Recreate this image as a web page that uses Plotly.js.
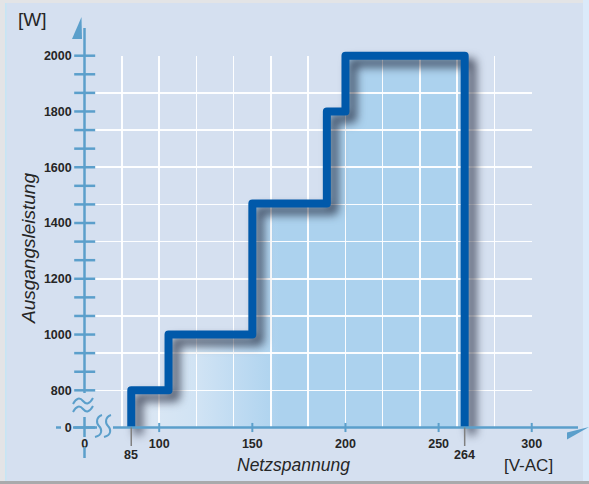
<!DOCTYPE html>
<html>
<head>
<meta charset="utf-8">
<script src="https://cdn.plot.ly/plotly-3.0.1.min.js"></script>
<style>
  html, body { margin: 0; padding: 0; background: #d5e0f0; }
  #chart { width: 589px; height: 484px; }
</style>
</head>
<body>
<div id="chart"></div>
<script>
// ---------------- data ----------------
const volts = [85, 85, 105, 105, 150, 150, 190, 190, 200, 200, 264, 264];
const watts = [0, 800, 800, 1000, 1000, 1470, 1470, 1800, 1800, 2000, 2000, 0];

const xTickVals = [60, 100, 150, 200, 250, 300];
const xTickText = ['0', '100', '150', '200', '250', '300'];
const yTickVals = [666.67, 800, 1000, 1200, 1400, 1600, 1800, 2000];
const yTickText = ['0', '800', '1000', '1200', '1400', '1600', '1800', '2000'];
const markedVolts = [85, 264];
const markedText = ['85', '264'];

// broken axes: where the "0" of each axis sits on the drawn scale
const X_BREAK_ZERO = 60;
const Y_BREAK_ZERO = 666.67;

// ---------------- geometry ----------------
const W = 589, H = 484;
const XR = [14.53, 330.74];
const YR = [464.04, 2199.75];
const fx = v => (v - XR[0]) / (XR[1] - XR[0]);
const fy = v => (v - YR[0]) / (YR[1] - YR[0]);
const PX = p => p / W;
const PY = p => 1 - p / H;
const path = s => s.replace(/(-?[\d.]+),(-?[\d.]+)/g, (m, a, b) => PX(+a).toFixed(5) + ',' + PY(+b).toFixed(5));

const AXIS = '#5b9fcb';
const TXT = '#262626';
const FONT = 'Liberation Sans, Arial, Helvetica, sans-serif';

const plotWatts = watts.map(w => (w === 0 ? Y_BREAK_ZERO : w));

// minor ticks on y every 66.67 W from 800 to 2000, plus the 0 tick
const yTickMarks = [Y_BREAK_ZERO];
for (let k = 0; k <= 18; k++) yTickMarks.push(800 + k * 400 / 6);
const xTickMarks = [100, 150, 200, 250, 300];

const traces = [
  { // filled area under the curve
    type: 'scatter', x: volts, y: plotWatts, xaxis: 'x', yaxis: 'y',
    mode: 'lines', line: { width: 0 }, fill: 'toself', fillcolor: '#acd2ee',
    fillgradient: { type: 'horizontal', start: 92, stop: 165,
      colorscale: [[0, '#dbe7f4'], [0.4, '#d0e3f4'], [0.75, '#bbd9f1'], [1, '#acd2ee']] },
    hoverinfo: 'skip'
  },
  { // dummy for grid subplot
    type: 'scatter', x: [100], y: [1000], xaxis: 'x2', yaxis: 'y2',
    mode: 'markers', marker: { opacity: 0 }, hoverinfo: 'skip'
  },
  { // the step line
    type: 'scatter', x: volts, y: plotWatts, xaxis: 'x3', yaxis: 'y3',
    mode: 'lines', line: { color: '#0059aa', width: 8 }, hoverinfo: 'skip'
  },
  { // y ticks
    type: 'scatter', x: yTickMarks.map(() => X_BREAK_ZERO), y: yTickMarks, xaxis: 'x3', yaxis: 'y3',
    mode: 'markers', marker: { symbol: 'line-ew', size: 15, line: { color: AXIS, width: 2.5 } },
    hoverinfo: 'skip', cliponaxis: false
  },
  { // x ticks
    type: 'scatter', x: xTickMarks, y: xTickMarks.map(() => Y_BREAK_ZERO), xaxis: 'x3', yaxis: 'y3',
    mode: 'markers', marker: { symbol: 'line-ns', size: 6.5, line: { color: AXIS, width: 2 } },
    hoverinfo: 'skip', cliponaxis: false
  }
];

const lineShape = (x0, y0, x1, y1, w) => ({
  type: 'line', xref: 'paper', yref: 'paper', x0: PX(x0), y0: PY(y0), x1: PX(x1), y1: PY(y1),
  line: { color: AXIS, width: w || 2.5 }, layer: 'above'
});
const rect = (x0, y0, x1, y1, c) => ({
  type: 'rect', xref: 'paper', yref: 'paper', x0: PX(x0), y0: PY(y0), x1: PX(x1), y1: PY(y1),
  fillcolor: c, line: { width: 0 }, layer: 'below'
});
const wave = s => ({ type: 'path', xref: 'paper', yref: 'paper', path: path(s),
  line: { color: AXIS, width: 2 }, layer: 'above' });

const shapes = [
  rect(0, 0, 5, 484, '#e3e4e6'),
  rect(5, 0, 6.5, 484, '#c6e5f4'),
  rect(0, 0, 589, 3, '#e3e4e6'),
  rect(583, 0, 589, 484, '#dbeafa'),
  rect(0, 481, 589, 484, '#a9aaac'),
  // y axis
  lineShape(84.5, 28, 84.5, 393),
  lineShape(84.5, 417, 84.5, 437),
  lineShape(84.5, 447, 84.5, 458),
  // x axis
  lineShape(56, 427.5, 61, 427.5),
  lineShape(73, 427.5, 97, 427.5),
  lineShape(113, 427.5, 578, 427.5),
  // arrowheads
  { type: 'path', xref: 'paper', yref: 'paper', path: path('M72,39 L81.5,17 L82,39 Z'),
    fillcolor: AXIS, line: { width: 0 }, layer: 'above' },
  { type: 'path', xref: 'paper', yref: 'paper', path: path('M567,432.5 L589,427 L567,439.5 Z'),
    fillcolor: AXIS, line: { width: 0 }, layer: 'above' },
  // axis break marks
  wave('M73,404 Q78,395 83,401 T93,398'),
  wave('M73,412 Q78,403 83,409 T93,406'),
  wave('M102,415 C96,417 96,423 99,426 S103,435 95,437'),
  wave('M111,415 C105,417 105,423 108,426 S112,435 104,437')
];

const txt = (px, py, text, size, extra) => Object.assign({
  xref: 'paper', yref: 'paper', x: PX(px), y: PY(py), xanchor: 'center', yanchor: 'middle',
  text: text, showarrow: false, font: { family: FONT, size: size, color: TXT }
}, extra || {});

const annotations = [
  txt(32.5, 20, '[W]', 19),
  txt(28, 249, 'Ausgangsleistung', 19, { textangle: -90, font: { family: FONT, size: 19, color: TXT, style: 'italic' } }),
  txt(293, 465, 'Netzspannung', 17.5, { font: { family: FONT, size: 17.5, color: TXT, style: 'italic' } }),
  txt(528, 465, '[V-AC]', 17)
];
markedVolts.forEach((v, i) => annotations.push({
  xref: 'x3', yref: 'y3', x: v, y: Y_BREAK_ZERO, text: markedText[i],
  showarrow: true, arrowhead: 0, arrowwidth: 1.5, arrowcolor: '#808080', ax: 0, ay: 27,
  standoff: 0, font: { family: FONT, size: 12.5, color: TXT, weight: 'bold' }
}));

const layout = {
  width: W, height: H, margin: { l: 0, r: 0, t: 0, b: 0, pad: 0 },
  paper_bgcolor: '#d5e0f0', plot_bgcolor: 'rgba(0,0,0,0)', showlegend: false,
  font: { family: FONT, color: TXT },
  xaxis: { domain: [0, 1], range: XR, anchor: 'free', position: fy(Y_BREAK_ZERO),
    showgrid: false, zeroline: false, showline: false, ticks: '',
    tickmode: 'array', tickvals: xTickVals, ticktext: xTickText, ticklabelstandoff: 7,
    tickfont: { family: FONT, size: 12.5, color: TXT, weight: 'bold' }, fixedrange: true },
  yaxis: { domain: [0, 1], range: YR, anchor: 'free', position: fx(X_BREAK_ZERO),
    showgrid: false, zeroline: false, showline: false, ticks: '',
    tickmode: 'array', tickvals: yTickVals, ticktext: yTickText, ticklabelstandoff: 13,
    tickfont: { family: FONT, size: 12.5, color: TXT, weight: 'bold' }, fixedrange: true },
  xaxis2: { domain: [fx(60), fx(300)], range: [59.99, 300.01], anchor: 'y2',
    showgrid: true, gridcolor: 'rgba(255,255,255,0.95)', gridwidth: 1.5,
    tickmode: 'linear', tick0: 60, dtick: 20, zeroline: false, showline: false,
    ticks: '', showticklabels: false, fixedrange: true },
  yaxis2: { domain: [fy(Y_BREAK_ZERO), fy(2000)], range: [Y_BREAK_ZERO - 0.05, 2000.05], anchor: 'x2',
    showgrid: true, gridcolor: 'rgba(255,255,255,0.95)', gridwidth: 1.5,
    tickmode: 'linear', tick0: Y_BREAK_ZERO, dtick: 400 / 3, zeroline: false, showline: false,
    ticks: '', showticklabels: false, fixedrange: true },
  xaxis3: { domain: [0, 1], range: XR, anchor: 'y3', visible: false, fixedrange: true },
  yaxis3: { domain: [0, 1], range: YR, anchor: 'x3', visible: false, fixedrange: true },
  shapes: shapes,
  annotations: annotations
};

Plotly.newPlot('chart', traces, layout, { staticPlot: true, displayModeBar: false }).then(gd => {
  const sub = gd.querySelector('.subplot.x3y3');
  if (sub) {
    const p = sub.querySelector('.scatterlayer .trace path.js-line');
    if (p) {
      p.style.strokeLinejoin = 'round';
      p.style.filter = 'drop-shadow(7px 7px 5px rgba(20,25,45,0.75))';
    }
  }
});
</script>
</body>
</html>
